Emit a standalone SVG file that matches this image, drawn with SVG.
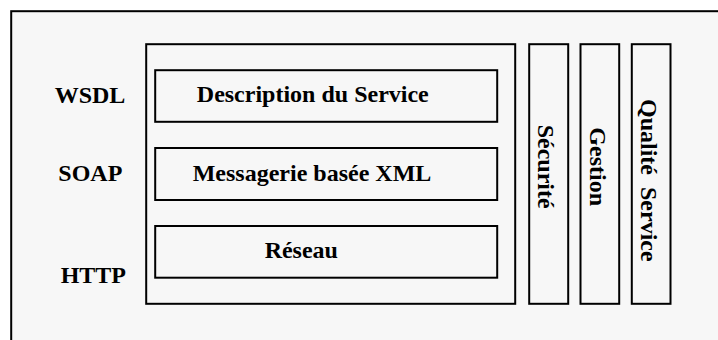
<svg xmlns="http://www.w3.org/2000/svg" width="718" height="340" viewBox="0 0 718 340">
<style>
.box{fill:#f7f7f7;stroke:#000;stroke-width:2}
.t{font-family:"Liberation Serif","Times New Roman",serif;font-weight:bold;font-size:24px;fill:#000;text-anchor:middle;white-space:pre}
</style>
<rect x="0" y="0" width="718" height="340" fill="#fff"/>
<g id="outer"><rect class="box" x="11.2" y="11.2" width="720" height="340"/></g>
<g id="labels">
<text class="t" x="90" y="102.5">WSDL</text>
<text class="t" x="90.3" y="180.5">SOAP</text>
<text class="t" x="93.3" y="283.3">HTTP</text>
</g>
<g id="stack"><rect class="box" x="146.2" y="44.2" width="369" height="259.6"/></g>
<g id="description"><rect class="box" x="155.2" y="70.2" width="342" height="51.6"/><text class="t" x="312.8" y="102.3">Description du Service</text></g>
<g id="messagerie"><rect class="box" x="155.2" y="148" width="342" height="52"/><text class="t" x="312" y="181">Messagerie basée XML</text></g>
<g id="reseau"><rect class="box" x="155.2" y="226" width="342" height="51.7"/><text class="t" x="301.3" y="257.7">Réseau</text></g>
<g id="securite"><rect class="box" x="529.2" y="44.2" width="39" height="259.6"/><text class="t" transform="translate(538,166.7) rotate(90)">Sécurité</text></g>
<g id="gestion"><rect class="box" x="580.5" y="44.2" width="38.7" height="259.6"/><text class="t" transform="translate(589.5,166.7) rotate(90)">Gestion</text></g>
<g id="qualite"><rect class="box" x="631.8" y="44.2" width="38.7" height="259.6"/><text class="t" transform="translate(641,180.3) rotate(90)">Qualité  Service</text></g>
</svg>
